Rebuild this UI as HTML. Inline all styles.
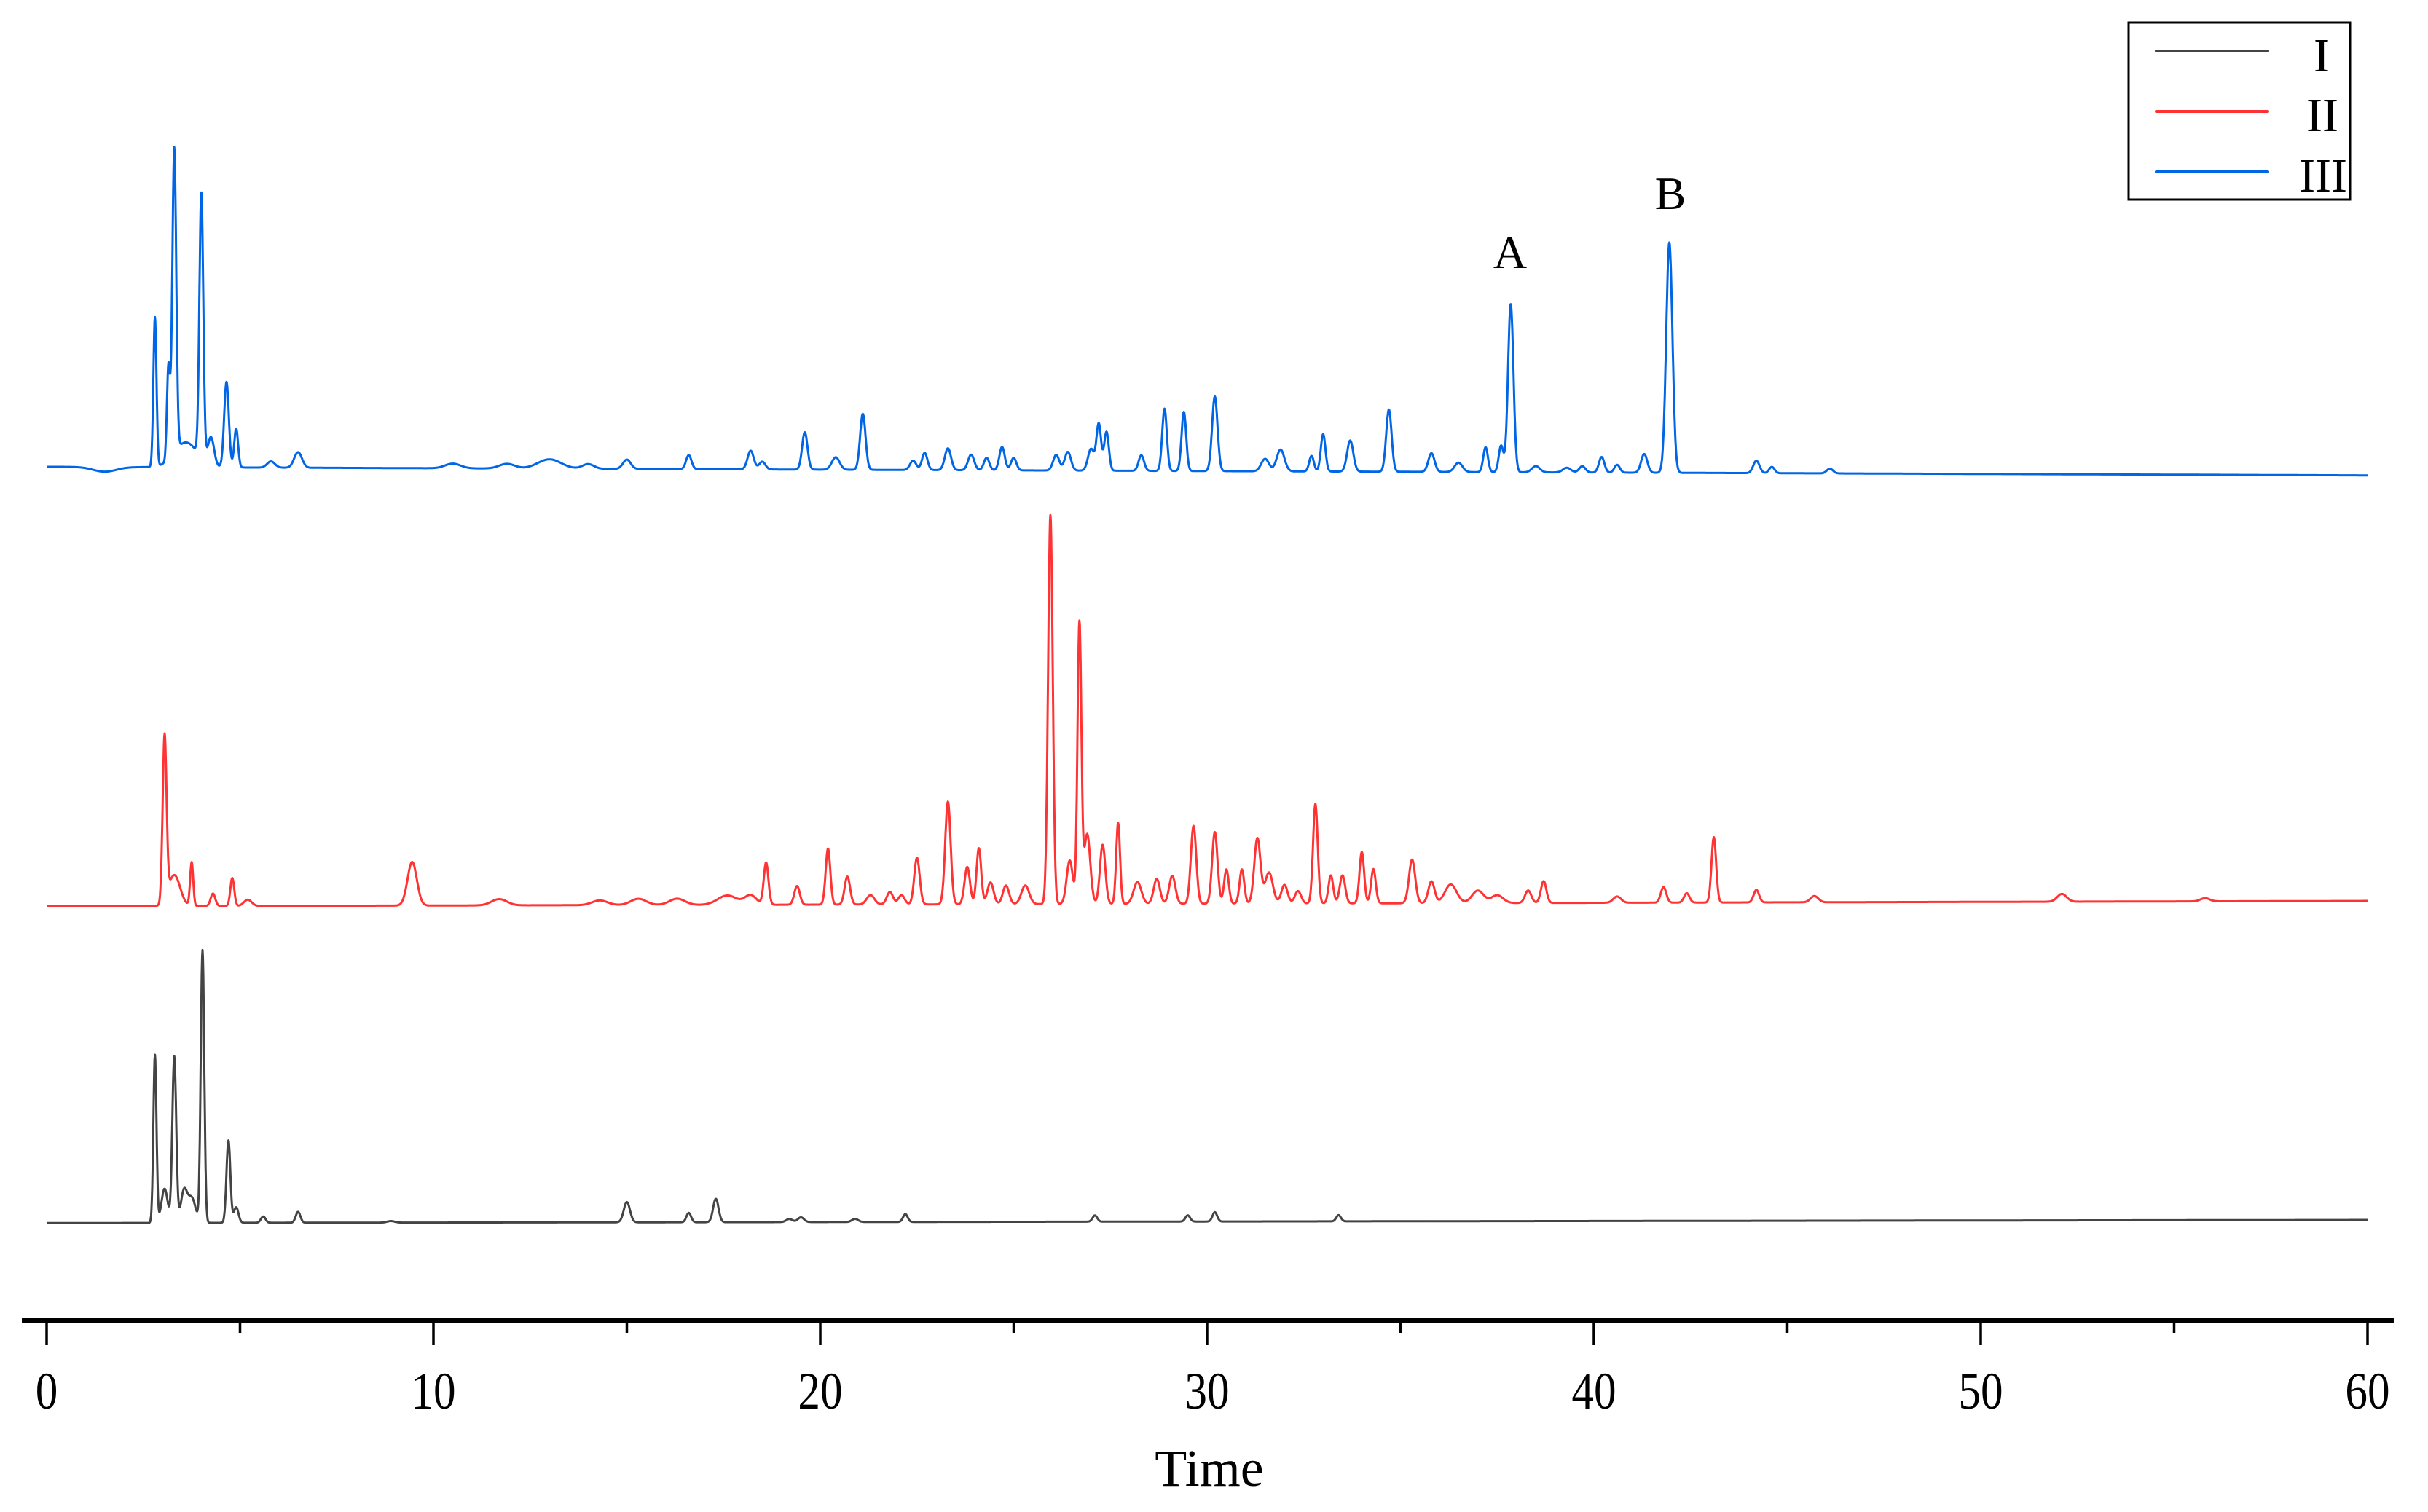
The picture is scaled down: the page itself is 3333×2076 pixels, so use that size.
<!DOCTYPE html>
<html><head><meta charset="utf-8"><style>
html,body{margin:0;padding:0;background:#fff;}
svg{display:block;}
text{font-family:"Liberation Serif",serif;fill:#000;}
</style></head><body>
<svg id="chart" width="3333" height="2076" viewBox="0 0 3333 2076" xmlns="http://www.w3.org/2000/svg">
<g id="traces"></g>
<g id="axis"></g>
<text x="2073" y="368" font-size="64" text-anchor="middle">A</text>
<text x="2293" y="287" font-size="64" text-anchor="middle">B</text>
<g>
<rect x="2922" y="31" width="304" height="243" fill="#fff" stroke="#000" stroke-width="3"/>
<line x1="2960" y1="70" x2="3113" y2="70" stroke="#444" stroke-width="4" stroke-linecap="round"/>
<line x1="2960" y1="153" x2="3113" y2="153" stroke="#ff3333" stroke-width="4" stroke-linecap="round"/>
<line x1="2960" y1="236" x2="3113" y2="236" stroke="#0066e6" stroke-width="4" stroke-linecap="round"/>
<text x="3198" y="98" font-size="66" text-anchor="end">I</text>
<text x="3210" y="180" font-size="66" text-anchor="end">II</text>
<text x="3222" y="263" font-size="66" text-anchor="end">III</text>
</g>
</svg>
<script>
// Peak tables: retention times (min), heights, widths (sigma, min)
const tickLabels = ["0","10","20","30","40","50","60"];
const blueTimes = [1.5,2.8,3.15,3.3,3.6,4.0,4.25,4.65,4.9,5.8,6.5,10.5,11.9,13.0,14.0,15.0,16.6,18.2,18.5,19.6,20.4,21.1,22.4,22.7,23.3,23.9,24.3,24.7,25.0,26.1,26.4,27.0,27.2,27.4,28.3,28.9,29.4,30.2,31.5,31.9,32.7,33.0,33.7,34.7,35.8,36.5,37.2,37.6,37.85,38.5,39.3,39.7,40.2,40.6,41.3,41.95,44.2,44.6,46.1];
const blueHeights = [-3,96,60,196,16,170,18,55,25,4,10,3,3,6,3,6,9,12,5,24,8,36,6,11,14,10,8,15,8,10,12,14,30,25,10,40,38,48,8,14,10,24,20,40,12,6,16,17,108,4,3,4,10,5,12,148,8,4,3];
const blueWidths = [0.3,0.04,0.04,0.05,0.3,0.05,0.08,0.06,0.05,0.1,0.1,0.2,0.2,0.3,0.15,0.1,0.07,0.08,0.08,0.07,0.1,0.07,0.08,0.07,0.08,0.08,0.07,0.07,0.07,0.08,0.08,0.08,0.06,0.06,0.07,0.06,0.06,0.07,0.1,0.1,0.06,0.06,0.08,0.07,0.08,0.1,0.06,0.06,0.07,0.1,0.1,0.08,0.07,0.07,0.08,0.08,0.08,0.07,0.08];
const redTimes = [3.05,3.3,3.75,4.3,4.8,5.2,9.45,11.7,14.3,15.3,16.3,17.6,18.2,18.6,19.4,20.2,20.7,21.3,21.8,22.1,22.5,23.3,23.8,24.1,24.4,24.8,25.3,25.95,26.45,26.7,26.9,27.3,27.7,28.2,28.7,29.1,29.65,30.2,30.5,30.9,31.3,31.6,32.0,32.35,32.8,33.2,33.5,34.0,34.3,35.3,35.8,36.3,37.0,37.5,38.3,38.7,40.6,41.8,42.4,43.1,44.2,45.7,52.1,55.8];
const redHeights = [106,20,28,8,18,4,28,4,3,4,4,6,6,27,12,36,18,6,8,6,30,66,24,36,14,12,12,250,28,180,45,38,52,14,16,18,50,46,22,22,42,20,12,8,64,18,18,33,22,28,14,12,8,5,8,14,4,10,6,42,8,4,5,2];
const redWidths = [0.05,0.15,0.04,0.06,0.05,0.1,0.12,0.2,0.2,0.2,0.2,0.25,0.15,0.06,0.07,0.06,0.07,0.1,0.08,0.08,0.07,0.07,0.07,0.06,0.08,0.08,0.1,0.06,0.08,0.05,0.08,0.07,0.05,0.1,0.08,0.08,0.07,0.07,0.06,0.06,0.08,0.1,0.08,0.08,0.06,0.06,0.07,0.06,0.06,0.08,0.08,0.15,0.15,0.15,0.08,0.07,0.1,0.07,0.07,0.06,0.07,0.1,0.12,0.12];
const blackTimes = [2.8,3.05,3.3,3.55,3.75,4.03,4.7,4.9,5.6,6.5,8.9,15.0,16.6,17.3,19.2,19.5,20.9,22.2,27.1,29.5,30.2,33.4];
const blackHeights = [108,22,107,20,16,175,53,10,4,7,1,13,6,15,2,3,2,5,4,4,6,4];
const blackWidths = [0.04,0.08,0.05,0.08,0.1,0.045,0.05,0.06,0.06,0.06,0.1,0.08,0.06,0.07,0.08,0.08,0.08,0.06,0.06,0.06,0.06,0.06];

const X0 = 64, X1 = 3250, TMIN = 0, TMAX = 60, S = 2.1365;
function xScale(t){ return X0 + (t - TMIN) / (TMAX - TMIN) * (X1 - X0); }
function yScale(v, base0, base60, t){ const b = base0 + (base60 - base0) * t / 60; return (b - v) * S; }
const NS = "http://www.w3.org/2000/svg";
const traces = document.getElementById('traces');
function drawTrace(times, heights, widths, base0, base60, color, name){
  let d = "";
  for (let i = 0; i <= 6000; i++){
    const t = i * 0.01;
    let v = 0;
    for (let k = 0; k < times.length; k++){
      const z = (t - times[k]) / widths[k];
      if (Math.abs(z) < 6) v += heights[k] * Math.exp(-0.5 * z * z);
    }
    d += (i ? "L" : "M") + xScale(t).toFixed(1) + "," + yScale(v, base0, base60, t).toFixed(1);
  }
  const p = document.createElementNS(NS, "path");
  p.setAttribute("d", d);
  p.setAttribute("fill", "none");
  p.setAttribute("stroke", color);
  p.setAttribute("stroke-width", "3");
  p.setAttribute("stroke-linejoin", "round");
  
  
  traces.appendChild(p);
}
drawTrace(blueTimes, blueHeights, blueWidths, 300, 305.5, "#0066e6", "series-iii");
drawTrace(redTimes, redHeights, redWidths, 582.5, 579, "#ff3333", "series-ii");
drawTrace(blackTimes, blackHeights, blackWidths, 786, 784, "#444444", "series-i");

const axis = document.getElementById('axis');
const al = document.createElementNS(NS, "line");
al.setAttribute("x1", "30"); al.setAttribute("x2", "3286");
al.setAttribute("y1", "1813"); al.setAttribute("y2", "1813");
al.setAttribute("stroke", "#000"); al.setAttribute("stroke-width", "6");


axis.appendChild(al);
for (let m = 0; m <= 12; m++){
  const t = m * 5;
  const x = xScale(t);
  const tk = document.createElementNS(NS, "line");
  tk.setAttribute("x1", x); tk.setAttribute("x2", x);
  tk.setAttribute("y1", "1813"); tk.setAttribute("y2", m % 2 === 0 ? "1847" : "1830");
  tk.setAttribute("stroke", "#000"); tk.setAttribute("stroke-width", "3.5");
  
  
  axis.appendChild(tk);
}
tickLabels.forEach(function(lbl, i){
  const t = i * 10;
  const tx = document.createElementNS(NS, "text");
  tx.setAttribute("transform", "translate(" + xScale(t) + ",1934) scale(0.85,1)");
  tx.setAttribute("text-anchor", "middle");
  tx.setAttribute("font-size", "72");
  tx.textContent = lbl;
  
  
  axis.appendChild(tx);
});
const ttl = document.createElementNS(NS, "text");
ttl.setAttribute("transform", "translate(1660,2040) scale(1,1)");
ttl.setAttribute("text-anchor", "middle");
ttl.setAttribute("font-size", "72");
ttl.textContent = "Time";


axis.appendChild(ttl);
</script>
</body></html>
